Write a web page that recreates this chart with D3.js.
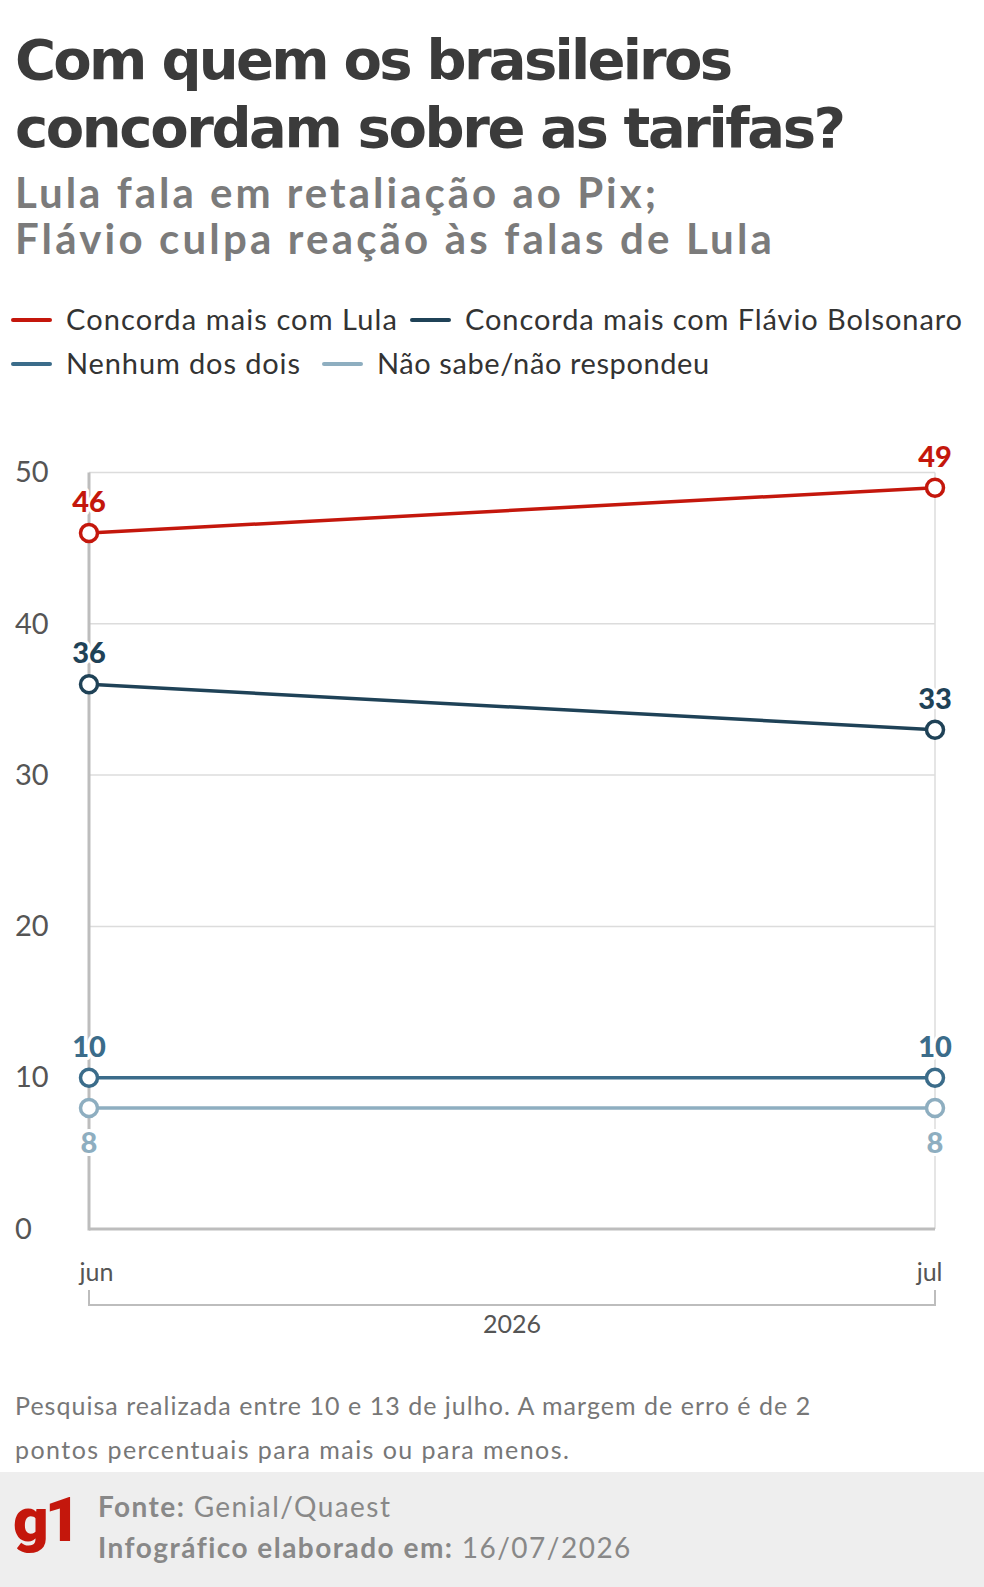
<!DOCTYPE html>
<html>
<head>
<meta charset="utf-8">
<script src="https://cdn.jsdelivr.net/npm/d3@7"></script>
<style>
  html, body { margin: 0; padding: 0; background: #fff; }
  svg { display: block; font-family: Lato, 'Open Sans', sans-serif; }
</style>
</head>
<body>
<div class="chart-wrapper"></div>
<script>
// data
const months = ['jun', 'jul']
const yearLabel = '2026'
const seriesNames = ['Concorda mais com Lula', 'Concorda mais com Flávio Bolsonaro', 'Nenhum dos dois', 'Não sabe/não respondeu']
const seriesColors = ['#c4170c', '#1f4257', '#3b6c8a', '#8eaec0']
const lulaValues = [46, 49]
const flavioValues = [36, 33]
const nenhumValues = [10, 10]
const naoSabeValues = [8, 8]
const yTicks = [0, 10, 20, 30, 40, 50]

const titleLines = ['Com quem os brasileiros', 'concordam sobre as tarifas?']
const subtitleLines = ['Lula fala em retaliação ao Pix;', 'Flávio culpa reação às falas de Lula']
const noteLines = ['Pesquisa realizada entre 10 e 13 de julho. A margem de erro é de 2', 'pontos percentuais para mais ou para menos.']

const width = 984
const height = 1587

const series = [lulaValues, flavioValues, nenhumValues, naoSabeValues].map((vals, i) => ({
  name: seriesNames[i],
  color: seriesColors[i],
  below: i === 3,
  values: vals.map((v, j) => ({ month: months[j], value: v }))
}))

// stretch a text with letter-spacing so it ends at a given x (fonts differ from the original)
function fitEnd(node, endX) {
  const bb = node.getBBox()
  const n = node.getNumberOfChars()
  const extra = endX - (bb.x + bb.width)
  node.setAttribute('letter-spacing', (extra / (n - 1)).toFixed(2))
}

const svg = d3.select('.chart-wrapper')
  .append('svg')
  .attr('width', width)
  .attr('height', height)

// header
const titleEnds = [733, 846]
svg.append('g').selectAll('text')
  .data(titleLines)
  .join('text')
  .attr('x', 15)
  .attr('y', (d, i) => 79 + i * 68)
  .attr('fill', '#3b3b3b')
  .attr('font-family', "'DejaVu Sans', sans-serif")
  .attr('font-size', 56)
  .attr('font-weight', 700)
  .text(d => d)
  .each(function(d, i) { fitEnd(this, titleEnds[i]) })

const subEnds = [656, 772]
svg.append('g').selectAll('text')
  .data(subtitleLines)
  .join('text')
  .attr('x', 15)
  .attr('y', (d, i) => 208 + i * 46)
  .attr('fill', '#7b7b7b')
  .attr('font-size', 42)
  .attr('font-weight', 700)
  .text(d => d)
  .each(function(d, i) { fitEnd(this, subEnds[i]) })

// legend
const legendPos = [[13, 320], [412, 320], [13, 364], [324, 364]]
const legendEnds = [397, 962, 300, 709]
const legend = svg.append('g').selectAll('g')
  .data(series)
  .join('g')
  .attr('transform', (d, i) => `translate(${legendPos[i][0]},${legendPos[i][1]})`)

legend.append('line')
  .attr('x1', 0).attr('x2', 37)
  .attr('stroke', d => d.color)
  .attr('stroke-width', 4)
  .attr('stroke-linecap', 'round')

legend.append('text')
  .attr('x', 53)
  .attr('dy', '0.35em')
  .attr('fill', '#333')
  .attr('font-size', 29)
  .text(d => d.name)
  .each(function(d, i) { fitEnd(this, legendEnds[i] - legendPos[i][0]) })

// scales
const x = d3.scalePoint().domain(months).range([89, 935])
const y = d3.scaleLinear().domain([0, 50]).range([1229, 472.5])

const grid = svg.append('g')
grid.selectAll('line')
  .data(yTicks.filter(d => d > 0))
  .join('line')
  .attr('x1', x.range()[0]).attr('x2', x.range()[1])
  .attr('y1', d => y(d)).attr('y2', d => y(d))
  .attr('stroke', '#dcdcdc')
  .attr('stroke-width', 1.5)

grid.append('line')
  .attr('x1', x.range()[1]).attr('x2', x.range()[1])
  .attr('y1', y(50)).attr('y2', y(0))
  .attr('stroke', '#dcdcdc')
  .attr('stroke-width', 1.5)

grid.append('line')
  .attr('x1', x.range()[0]).attr('x2', x.range()[0])
  .attr('y1', y(50)).attr('y2', y(0) + 1.5)
  .attr('stroke', '#bdbdbd')
  .attr('stroke-width', 3)

grid.append('line')
  .attr('x1', x.range()[0]).attr('x2', x.range()[1])
  .attr('y1', y(0)).attr('y2', y(0))
  .attr('stroke', '#bdbdbd')
  .attr('stroke-width', 3)

// y axis labels
const yAxis = svg.append('g')
  .attr('transform', 'translate(15,0)')
  .call(d3.axisLeft(y).tickValues(yTicks).tickSize(0).tickPadding(0))
yAxis.select('.domain').remove()
yAxis.selectAll('text')
  .attr('text-anchor', 'start')
  .attr('font-family', 'Lato, sans-serif')
  .attr('font-size', 29)
  .attr('fill', '#555')

// x axis labels
const xAxis = svg.append('g')
  .attr('transform', `translate(0,${y(0)})`)
  .call(d3.axisBottom(x).tickSize(0).tickPadding(0))
xAxis.select('.domain').remove()
xAxis.selectAll('text')
  .attr('y', 52)
  .attr('dy', 0)
  .attr('text-anchor', (d, i) => i === 0 ? 'start' : 'end')
  .attr('dx', (d, i) => i === 0 ? -10 : 7)
  .attr('font-family', 'Lato, sans-serif')
  .attr('font-size', 25)
  .attr('fill', '#555')

// year bracket
const bracket = svg.append('g')
bracket.append('path')
  .attr('d', `M${x.range()[0]},${y(0) + 61}V${y(0) + 76}H${x.range()[1]}V${y(0) + 61}`)
  .attr('fill', 'none')
  .attr('stroke', '#bdbdbd')
  .attr('stroke-width', 2)
bracket.append('text')
  .attr('x', (x.range()[0] + x.range()[1]) / 2)
  .attr('y', y(0) + 104)
  .attr('text-anchor', 'middle')
  .attr('font-size', 25)
  .attr('fill', '#555')
  .text(yearLabel)

// lines
const line = d3.line()
  .x(d => x(d.month))
  .y(d => y(d.value))

const seriesG = svg.append('g').selectAll('g')
  .data(series.slice().reverse())
  .join('g')

seriesG.append('path')
  .attr('d', d => line(d.values))
  .attr('fill', 'none')
  .attr('stroke', d => d.color)
  .attr('stroke-width', 3.5)

seriesG.selectAll('circle')
  .data(d => d.values.map(v => Object.assign({ color: d.color }, v)))
  .join('circle')
  .attr('cx', d => x(d.month))
  .attr('cy', d => y(d.value))
  .attr('r', 8.5)
  .attr('fill', '#fff')
  .attr('stroke', d => d.color)
  .attr('stroke-width', 3.5)

seriesG.selectAll('text')
  .data(d => d.values.map(v => Object.assign({ color: d.color, below: d.below }, v)))
  .join('text')
  .attr('x', d => x(d.month))
  .attr('y', d => y(d.value) + (d.below ? 45 : -21))
  .attr('text-anchor', 'middle')
  .attr('font-size', 29)
  .attr('font-weight', 900)
  .attr('fill', d => d.color)
  .attr('stroke', '#fff')
  .attr('stroke-width', 6)
  .attr('stroke-linejoin', 'round')
  .attr('paint-order', 'stroke')
  .text(d => d.value)

// note
const noteEnds = [810, 569]
svg.append('g').selectAll('text')
  .data(noteLines)
  .join('text')
  .attr('x', 15)
  .attr('y', (d, i) => 1415 + i * 44)
  .attr('font-size', 25)
  .attr('fill', '#777')
  .text(d => d)
  .each(function(d, i) { fitEnd(this, noteEnds[i]) })

// footer band
const footer = svg.append('g')
footer.append('rect')
  .attr('x', 0).attr('y', 1472)
  .attr('width', width).attr('height', height - 1472)
  .attr('fill', '#eeeeee')

footer.append('text')
  .attr('x', 13)
  .attr('y', 1541)
  .attr('font-family', 'Roboto, sans-serif')
  .attr('font-size', 62)
  .attr('font-weight', 900)
  .attr('letter-spacing', -4)
  .attr('fill', '#c4170c')
  .text('g1')

const fonte = footer.append('text')
  .attr('x', 98).attr('y', 1517)
  .attr('font-size', 28)
  .attr('fill', '#888')
fonte.append('tspan').attr('font-weight', 700).text('Fonte: ')
fonte.append('tspan').text('Genial/Quaest')
fitEnd(fonte.node(), 390)

const info = footer.append('text')
  .attr('x', 98).attr('y', 1558)
  .attr('font-size', 28)
  .attr('fill', '#888')
info.append('tspan').attr('font-weight', 700).text('Infográfico elaborado em: ')
info.append('tspan').text('16/07/2026')
fitEnd(info.node(), 630)
</script>
</body>
</html>
